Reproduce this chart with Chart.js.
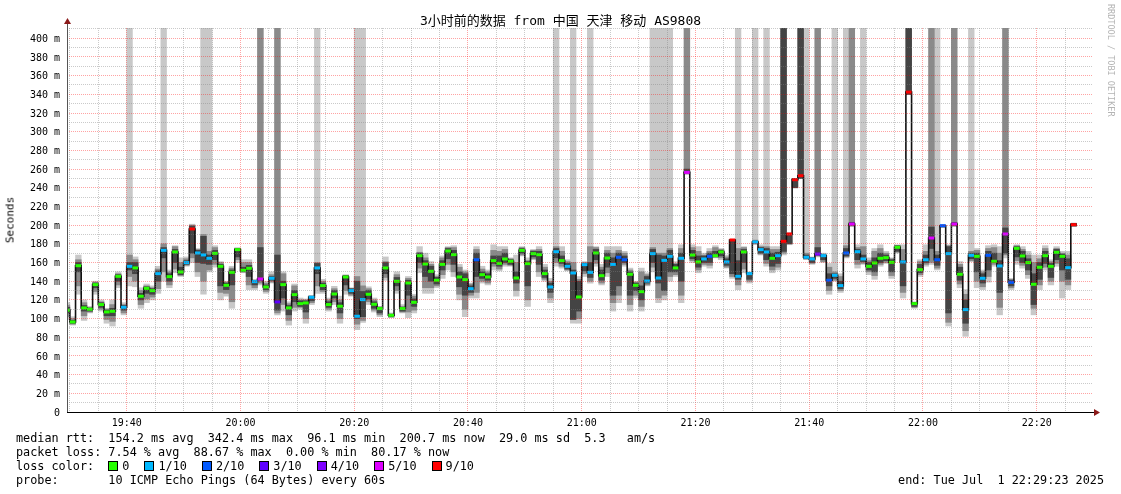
<!DOCTYPE html>
<html>
<head>
<meta charset="utf-8">
<script src="https://cdn.jsdelivr.net/npm/chart.js@4.4.1/dist/chart.umd.min.js"></script>
<style>
body { margin: 0; background: #fff; }
#wrap { position: relative; width: 1121px; height: 494px; overflow: hidden; background: #fff;
        font-family: 'DejaVu Sans Mono', 'Noto Sans CJK SC', monospace; color: #000; }
#c { position: absolute; left: 0; top: 0; }
.txt { position: absolute; white-space: pre; font-size: 11.8px; line-height: 14px; }
#title { position: absolute; left: 0; width: 1121px; top: 13px; text-align: center; font-size: 13px; line-height: 16px; white-space: pre; }
#ylab { position: absolute; left: 10px; top: 220px; transform: translate(-50%, -50%) rotate(-90deg); font-size: 11px; font-weight: normal; white-space: pre; }
#credit { position: absolute; left: 1106px; top: 4px; writing-mode: vertical-rl; font-size: 8.5px; color: #b4b4b4; white-space: pre; }
.box { display: inline-block; width: 8px; height: 8px; border: 1px solid #000; vertical-align: -1px; margin-right: 4px; }
.item { margin-right: 15px; }
</style>
</head>
<body>
<div id="wrap">
  <canvas id="c" width="1121" height="494"></canvas>
  <div id="title">3小时前的数据 from 中国 天津 移动 AS9808</div>
  <div id="ylab">Seconds</div>
  <div id="credit">RRDTOOL / TOBI OETIKER</div>
  <div class="txt" style="left:16px;top:431px">median rtt:  154.2 ms avg  342.4 ms max  96.1 ms min  200.7 ms now  29.0 ms sd  5.3   am/s</div>
  <div class="txt" style="left:16px;top:445px">packet loss: 7.54 % avg  88.67 % max  0.00 % min  80.17 % now</div>
  <div class="txt" id="losslegend" style="left:16px;top:459px">loss color:  </div>
  <div class="txt" style="left:16px;top:473px">probe:       10 ICMP Echo Pings (64 Bytes) every 60s</div>
  <div class="txt" style="right:17px;top:473px">end: Tue Jul  1 22:29:23 2025</div>
</div>
<script>
// une mesure par minute, j = 0 .. 177 (de 19:29 a 22:27)
const med = [
  109, 96.4, 156.6, 111.4, 110, 136.3, 115, 107.1, 107.8, 145.2,
  112.1, 155.9, 154.2, 123.9, 132.4, 129.9, 148.1, 173, 144.9, 171.3,
  149.9, 159.9, 195.9, 170.2, 168.1, 164.5, 169.8, 155.9, 135.6, 149.5,
  173.8, 151.7, 153.8, 139.5, 142.4, 133.8, 143.1, 117.8, 136.3, 111.4,
  125.6, 116, 116.7, 122.8, 154.2, 135.3, 115, 126.3, 113.2, 144.5,
  129.9, 102.5, 120.3, 126, 115.3, 110.7, 154.2, 103.5, 139.9, 110.7,
  138.1, 117.4, 167.3, 158.4, 150.6, 141, 158, 172.3, 168.4, 144.5,
  141.7, 132, 163, 147, 144.5, 162, 159.1, 163.8, 161.3, 143.4,
  173, 158.8, 169.5, 168.4, 148.1, 133.8, 171.6, 162, 155.9, 148.8,
  123.1, 157.7, 149.5, 170.2, 145.9, 164.8, 158, 165.6, 163, 147.4,
  135.6, 128.8, 140.2, 169.5, 143.4, 162.3, 166.6, 154.2, 164.5, 256.5,
  168, 160.6, 163.8, 166.6, 167.3, 171.3, 160.6, 184.1, 145.2, 171.3,
  148.1, 182, 173.8, 171.3, 164.5, 167.3, 182.7, 190.5, 248.6, 252.9,
  165.6, 163.8, 169.1, 167.3, 141, 146.3, 135.3, 170.2, 201.2, 171.6,
  163.8, 155.9, 159.5, 164.5, 165.2, 160.2, 176.3, 160.6, 342.4, 116,
  152.4, 163, 186.2, 163, 199.4, 169.5, 201.2, 147.4, 109.6, 167.7,
  166.6, 143.1, 167.7, 161.3, 156.3, 190.5, 138.8, 175.2, 167, 159.9,
  136.7, 154.9, 167.3, 155.9, 170.9, 166.6, 154.5, 200.5
];

// index dans lossColors / lossLabels
const loss = [
  0, 0, 0, 0, 0, 0, 0, 0, 0, 0,
  1, 1, 0, 0, 0, 0, 1, 1, 0, 0,
  0, 1, 6, 1, 1, 1, 0, 0, 0, 0,
  0, 0, 0, 1, 5, 0, 1, 3, 0, 0,
  0, 0, 0, 1, 1, 0, 0, 0, 0, 0,
  1, 1, 1, 0, 0, 0, 0, 0, 0, 0,
  0, 0, 0, 0, 0, 0, 0, 0, 0, 0,
  0, 1, 2, 0, 0, 0, 0, 0, 0, 0,
  0, 0, 0, 0, 0, 1, 1, 0, 1, 1,
  0, 1, 1, 0, 0, 0, 1, 2, 2, 0,
  0, 0, 1, 1, 1, 1, 1, 0, 1, 5,
  0, 0, 1, 2, 0, 0, 1, 6, 1, 0,
  1, 1, 1, 1, 0, 1, 6, 6, 6, 6,
  1, 1, 4, 1, 2, 1, 1, 2, 5, 1,
  1, 0, 0, 0, 0, 0, 0, 1, 6, 0,
  0, 1, 5, 2, 2, 1, 5, 0, 1, 1,
  0, 1, 2, 0, 1, 5, 2, 0, 0, 0,
  0, 0, 0, 0, 0, 0, 1, 6
];

// fumee : bande claire (lo..hi), moyenne (mlo..mhi), sombre (dlo..dhi) ; 420 = hors du graphe
const lo = [
  99, 93, 126, 98, 106, 126, 108, 95, 92, 133,
  104, 135, 134, 111, 117, 120, 127, 140, 133, 149,
  145, 156, 160, 145, 126, 150, 155, 120, 124, 111,
  160, 149, 131, 131, 136, 127, 138, 104, 108, 93,
  108, 110, 95, 115, 127, 127, 108, 115, 95, 126,
  124, 88, 96, 115, 107, 102, 141, 101, 127, 106,
  101, 106, 149, 127, 127, 133, 143, 152, 145, 120,
  102, 122, 122, 138, 136, 152, 151, 156, 156, 124,
  167, 113, 163, 145, 140, 117, 156, 154, 151, 95,
  95, 145, 138, 156, 136, 145, 108, 117, 156, 108,
  122, 108, 135, 150, 117, 120, 140, 145, 117, 254,
  160, 149, 156, 154, 165, 163, 154, 143, 131, 149,
  138, 179, 168, 156, 149, 152, 168, 179, 240, 250,
  163, 158, 166, 160, 126, 140, 128, 165, 199, 154,
  158, 147, 142, 156, 159, 143, 170, 122, 340, 111,
  145, 156, 158, 152, 198, 92, 199, 133, 81, 161,
  133, 131, 139, 156, 104, 165, 131, 158, 154, 143,
  104, 131, 152, 136, 156, 122, 131, 199
];
const hi = [
  117, 102, 168, 120, 113, 140, 120, 111, 120, 150,
  117, 420, 166, 133, 137, 135, 156, 420, 152, 178,
  165, 166, 201, 175, 420, 420, 178, 161, 140, 156,
  176, 163, 163, 142, 420, 140, 150, 420, 150, 118,
  137, 122, 121, 124.5, 420, 142, 122, 134.5, 124, 147,
  133, 420, 420, 134, 122, 113, 166, 106, 150, 115,
  145, 126, 177, 170, 161, 147, 167, 177, 178, 158,
  152, 138, 177, 156, 152, 179, 177, 177, 165, 168,
  177, 165, 174, 177, 158, 143, 420, 177, 163, 420,
  145, 161, 420, 177, 158, 177, 177, 177, 172, 154,
  140, 154, 149, 420, 420, 420, 420, 161, 179, 420,
  179, 177, 170, 175, 178, 175, 168, 184, 420, 177,
  150, 420, 179, 420, 177, 177, 420, 192, 250, 420,
  420, 166, 420, 170, 159, 420, 148, 420, 420, 179,
  420, 165, 175, 179, 172, 165, 179, 179, 420, 118,
  163, 179, 420, 420, 200, 179, 420, 161, 131, 420,
  175, 152, 178, 179, 177, 420, 143, 179, 177, 172,
  168, 168, 178, 163, 177, 172, 172, 202
];
const mlo = [
  102, 94, 135, 103, 107, 129, 110, 99, 97, 136,
  106, 145, 140, 115, 121, 123, 132, 150, 136, 153,
  146, 157, 165, 150, 140, 152, 158, 128, 127, 118,
  163, 150, 136, 133, 138, 129, 139, 106, 115, 98,
  112, 112, 100, 117, 135, 129, 110, 118, 100, 130,
  125, 94, 98, 118, 109, 104, 144, 101.5, 130, 107,
  107, 109, 154, 133, 133, 135, 147, 158, 150, 126,
  110, 125, 128, 140, 138, 156, 153, 158, 157, 130,
  168, 120, 164, 150, 142, 122, 160, 156, 152, 100,
  100, 148, 140, 159, 138, 149, 117, 125, 158, 115,
  125, 113, 136, 155, 122, 125, 145, 147, 125, 255,
  162, 152, 158, 157, 166, 165, 155, 145, 136, 153,
  140, 180, 169, 159, 152, 155, 170, 180, 240, 250,
  164, 159, 167, 161, 130, 141, 130, 166, 199, 158,
  159, 150, 146, 158, 160, 146, 171, 128, 340, 112,
  147, 158, 160, 154, 198, 96, 199, 137, 87, 162,
  140, 134, 145, 158, 112, 168, 133, 162, 157, 147,
  111, 136, 155, 140, 159, 140, 136, 199
];
const mhi = [
  114, 100, 163, 117, 112, 139, 118, 110, 115, 148,
  115, 168, 163, 130, 135, 133, 153, 180, 150, 177,
  160, 164, 200, 174, 190, 172, 176, 160, 139, 154,
  175, 160, 160, 141, 420, 138, 147, 420, 148, 116,
  135, 120, 120, 124, 160, 140, 120, 132, 120, 146,
  132, 145, 135, 132, 120, 112.5, 161, 105, 147, 113,
  143, 124, 171, 165, 158, 145, 165, 176, 176, 155,
  150, 137, 174, 153, 150, 173, 172, 174, 164, 160,
  176, 162, 173, 174, 155, 140, 177, 172, 161, 160,
  142, 160, 177, 176, 155, 173, 170, 173, 170, 152,
  139, 150, 147, 176, 170, 170, 175, 159, 175, 420,
  176, 172, 168, 172, 176, 174, 166, 184, 175, 176,
  149, 184, 177, 177, 174, 174, 420, 191, 250, 420,
  170, 165, 420, 169, 155, 150, 145, 178, 420, 176,
  177, 162, 172, 175, 170, 164, 178, 174, 420, 117,
  161, 172, 420, 172, 200, 178, 420, 158, 126, 172,
  173, 150, 175, 176, 170, 420, 142, 178, 174, 168,
  160, 164, 175, 161, 175, 170, 168, 202
];
const dlo = [
  106, 95, 150, 108, 108, 133, 112, 103, 103, 140,
  109, 152, 148, 120, 127, 126, 140, 165, 140, 160,
  147, 158, 170, 160, 159, 158, 163, 135, 131, 136,
  166, 150, 145, 136, 141, 131, 141, 109, 122, 104,
  118, 113, 107, 119, 148, 131, 112, 122, 106, 136,
  127, 100, 102, 121, 111, 106, 148, 102, 135, 108,
  125, 113, 160, 145, 140, 137, 152, 164, 158, 134,
  125, 128, 145, 143, 141, 159, 156, 160, 158, 138,
  170, 135, 166, 158, 144, 128, 165, 159, 153, 99,
  108, 151, 144, 163, 141, 155, 125, 135, 160, 125,
  130, 120, 138, 160, 138, 130, 150, 150, 140, 256,
  164, 155, 160, 160, 166, 167, 157, 148, 142, 160,
  142, 181, 170, 163, 156, 159, 172, 180, 240, 250,
  164, 160, 168, 163, 135, 143, 132, 167, 200, 163,
  161, 152, 150, 160, 162, 150, 172, 135, 340, 113,
  149, 160, 175, 157, 198, 106, 200, 141, 95, 164,
  150, 138, 152, 160, 128, 170, 135, 166, 160, 152,
  115, 142, 159, 144, 163, 152, 142, 199
];
const dhi = [
  112, 98, 160, 114, 111, 138, 117, 109, 111, 147,
  114, 160, 160, 127, 134, 132, 151, 176, 148, 174,
  155, 162, 199, 173, 188, 168, 173, 158, 138, 152,
  175, 155, 157, 140, 176, 136, 145, 168, 140, 114,
  130, 119, 119, 124, 159, 138, 118, 130, 117, 146,
  132, 140, 129, 130, 118, 112, 160, 104.5, 144, 112,
  141, 121, 170, 162, 156, 144, 162, 175, 173, 150,
  148, 135, 170, 150, 148, 167, 167, 170, 163, 150,
  175, 161, 172, 172, 152, 138, 175, 167, 159, 152,
  140, 159, 160, 174, 152, 170, 165, 170, 167, 150,
  138, 135, 145, 174, 168, 167, 173, 158, 170, 260,
  173, 167, 167, 170, 172, 173, 164, 184, 162, 174,
  149, 183, 176, 175, 170, 171, 420, 191, 250, 420,
  168, 165, 176, 168, 148, 148, 140, 175, 203, 174,
  168, 160, 165, 170, 168, 163, 178, 162, 420, 117,
  158, 168, 198, 168, 200, 177, 203, 155, 120, 170,
  170, 148, 172, 170, 162, 197, 141, 177, 172, 164,
  148, 160, 172, 159, 174, 169, 164, 202
];

const lossColors = ['#26ff00', '#00b8ff', '#0059ff', '#5e00ff', '#7e00ff', '#dd00ff', '#ff0000'];
const lossLabels = ['0', '1/10', '2/10', '3/10', '4/10', '5/10', '9/10'];
// graduations en minutes depuis 19:30, une etiquette toutes les 20 min a partir de 19:40
const timeLabels = ['19:40', '20:00', '20:20', '20:40', '21:00', '21:20', '21:40', '22:00', '22:20'];

// legende des couleurs de perte
const leg = document.getElementById('losslegend');
lossLabels.forEach((lab, i) => {
    const b = document.createElement('span');
    b.className = 'box';
    b.style.background = lossColors[i];
    leg.appendChild(b);
    const t = document.createElement('span');
    t.className = 'item';
    t.textContent = lab;
    leg.appendChild(t);
});

// chaque mesure occupe une minute : centre en j - 0.5
function band(a, b) {
    return med.map((m, j) => ({ x: j - 0.5, y: [a[j], b[j]] }));
}
const steps = [];
med.forEach((m, j) => {
    steps.push({ x: j - 1, y: m });
    steps.push({ x: j, y: m });
});

const majorGrid = 'rgba(255, 0, 0, 0.36)';
const minorGrid = 'rgba(128, 128, 128, 0.42)';

// axes avec fleches facon rrdtool
const axesPlugin = {
    id: 'axes',
    afterDraw(chart) {
        const { ctx, chartArea: a } = chart;
        ctx.save();
        ctx.lineWidth = 1;
        ctx.strokeStyle = '#555';
        ctx.beginPath();
        ctx.moveTo(a.left + 0.5, a.bottom);
        ctx.lineTo(a.left + 0.5, a.top - 5);
        ctx.stroke();
        ctx.strokeStyle = '#000';
        ctx.beginPath();
        ctx.moveTo(a.left, a.bottom + 0.5);
        ctx.lineTo(a.right + 2, a.bottom + 0.5);
        ctx.stroke();
        ctx.fillStyle = '#8b1a1a';
        ctx.beginPath();
        ctx.moveTo(a.left - 3, a.top - 4);
        ctx.lineTo(a.left + 4, a.top - 4);
        ctx.lineTo(a.left + 0.5, a.top - 10);
        ctx.closePath();
        ctx.fill();
        ctx.beginPath();
        ctx.moveTo(a.right + 1, a.bottom - 3);
        ctx.lineTo(a.right + 1, a.bottom + 4);
        ctx.lineTo(a.right + 7, a.bottom + 0.5);
        ctx.closePath();
        ctx.fill();
        ctx.restore();
    }
};

const barCommon = { type: 'bar', grouped: false, barPercentage: 1, categoryPercentage: 1, clip: 0 };

new Chart(document.getElementById('c'), {
    type: 'bar',
    data: {
        datasets: [
            Object.assign({ data: band(lo, hi), backgroundColor: '#c8c8c8', order: 10 }, barCommon),
            Object.assign({ data: band(mlo, mhi), backgroundColor: '#8a8a8a', order: 9 }, barCommon),
            Object.assign({ data: band(dlo, dhi), backgroundColor: '#444444', order: 8 }, barCommon),
            {
                type: 'line', data: steps, borderColor: '#111', borderWidth: 1.6,
                pointRadius: 0, tension: 0, clip: 0, order: 2
            },
            {
                type: 'line', data: steps, borderColor: 'rgba(0,0,0,0)', borderWidth: 3,
                borderCapStyle: 'butt', pointRadius: 0, tension: 0, clip: 0, order: 1,
                segment: {
                    borderColor: c => c.p0DataIndex % 2 === 0 ? lossColors[loss[c.p0DataIndex / 2]] : 'rgba(0,0,0,0)'
                }
            }
        ]
    },
    options: {
        responsive: false,
        devicePixelRatio: 1,
        animation: false,
        events: [],
        layout: { padding: { top: 28, right: 28, left: 0, bottom: 0 } },
        plugins: { legend: { display: false }, tooltip: { enabled: false } },
        scales: {
            x: {
                type: 'linear',
                min: -0.5,
                max: 179.9,
                offset: false,
                afterBuildTicks: s => {
                    const t = [];
                    for (let v = 0; v <= 175; v += 5) t.push({ value: v });
                    s.ticks = t;
                },
                afterFit: s => { s.height = 82; },
                grid: {
                    offset: false,
                    drawTicks: false,
                    z: 1,
                    color: c => ((c.tick.value - 10) % 20 === 0 ? majorGrid : minorGrid)
                },
                border: { display: false, dash: [1, 1] },
                ticks: {
                    autoSkip: false,
                    maxRotation: 0,
                    padding: 5,
                    color: '#000',
                    font: { family: 'DejaVu Sans Mono', size: 10 },
                    callback: v => ((v - 10) % 20 === 0 ? timeLabels[(v - 10) / 20] : '')
                }
            },
            y: {
                type: 'linear',
                min: 0,
                max: 411,
                afterBuildTicks: s => {
                    const t = [];
                    for (let v = 0; v <= 410; v += 10) t.push({ value: v });
                    s.ticks = t;
                },
                afterFit: s => { s.width = 67; },
                grid: {
                    drawTicks: false,
                    z: 1,
                    color: c => (c.tick.value % 20 === 0 ? majorGrid : minorGrid)
                },
                border: { display: false, dash: [1, 1] },
                ticks: {
                    autoSkip: false,
                    padding: 7,
                    labelOffset: 1,
                    color: '#000',
                    font: { family: 'DejaVu Sans Mono', size: 10 },
                    callback: v => (v % 20 === 0 ? (v === 0 ? '0' : v + ' m') : '')
                }
            }
        }
    },
    plugins: [axesPlugin]
});
</script>
</body>
</html>
